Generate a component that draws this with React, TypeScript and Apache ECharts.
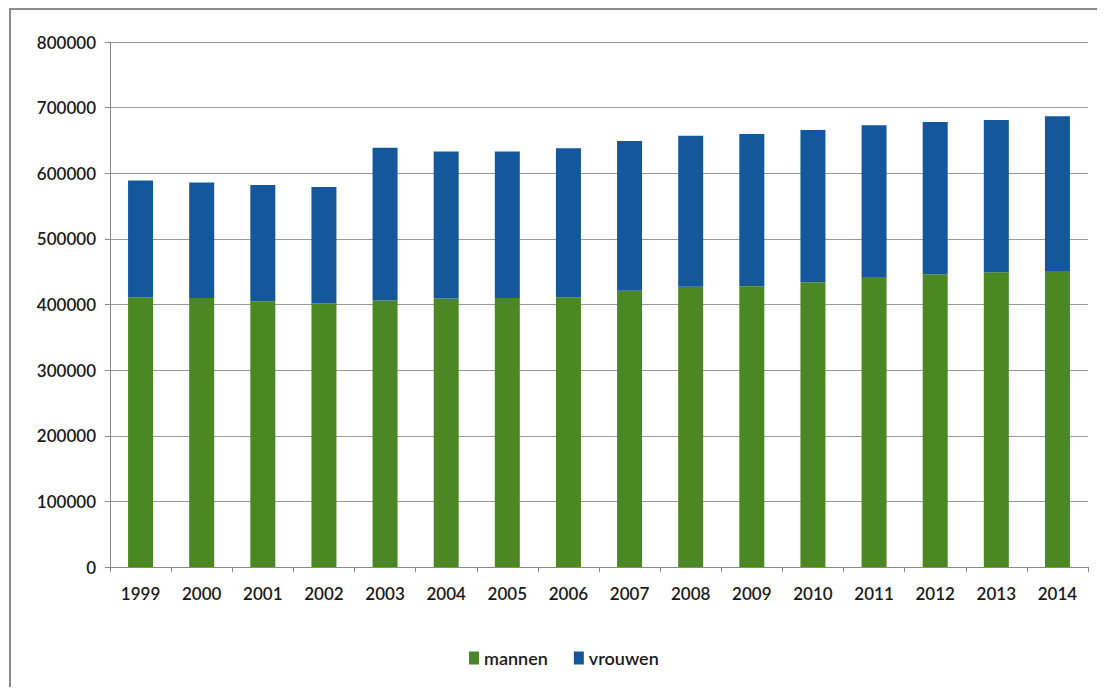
import React, { useEffect, useRef } from "react";
import * as echarts from "echarts";

const years = ["1999","2000","2001","2002","2003","2004","2005","2006","2007","2008","2009","2010","2011","2012","2013","2014"];
const mannen = [411000,410000,405000,402000,406000,409000,410000,411000,421000,427000,428000,434000,442000,446000,449000,451000];
const totaal = [589000,586000,582000,579000,639000,633000,633000,638000,649000,657000,660000,666000,673000,678000,681000,687000];
const vrouwen = totaal.map((t, i) => t - mannen[i]);

export default function App() {
  const ref = useRef<HTMLDivElement>(null);
  useEffect(() => {
    const chart = echarts.init(ref.current!, null, { renderer: "svg" });
    chart.setOption({
      animation: false,
      backgroundColor: "#ffffff",
      textStyle: { fontFamily: "Lato" },
      graphic: [
        { type: "rect", shape: { x: 2, y: 1, width: 1088, height: 700 }, style: { fill: "none", stroke: "#8a8a8a", lineWidth: 2 } },
      ],
      grid: { left: 102, right: 9, top: 34, bottom: 120 },
      legend: {
        bottom: 15,
        left: 456,
        itemWidth: 10,
        itemHeight: 13,
        itemGap: 26,
        icon: "rect",
        textStyle: { fontSize: 18, color: "#1a1a1a", fontFamily: "Lato", fontWeight: 600 },
        data: ["mannen", "vrouwen"],
      },
      xAxis: {
        type: "category",
        data: years,
        axisLine: { lineStyle: { color: "#888" } },
        axisTick: { show: true, alignWithLabel: false, length: 5, lineStyle: { color: "#888" } },
        axisLabel: { fontSize: 17, color: "#1a1a1a", margin: 18, fontWeight: 600 },
      },
      yAxis: {
        type: "value",
        min: 0,
        max: 800000,
        interval: 100000,
        axisLine: { show: true, lineStyle: { color: "#888" } },
        axisTick: { show: true, length: 5, lineStyle: { color: "#888" } },
        splitLine: { lineStyle: { color: "#9a9a9a" } },
        axisLabel: { fontSize: 17, color: "#1a1a1a", margin: 14, fontWeight: 600, formatter: (v: number) => String(v) },
      },
      series: [
        { name: "mannen", type: "bar", stack: "t", data: mannen, barWidth: 25, itemStyle: { color: "#4b8723" } },
        { name: "vrouwen", type: "bar", stack: "t", data: vrouwen, barWidth: 25, itemStyle: { color: "#14589b" } },
      ],
    });
    return () => chart.dispose();
  }, []);
  return <div ref={ref} style={{ width: 1089, height: 679 }} />;
}
